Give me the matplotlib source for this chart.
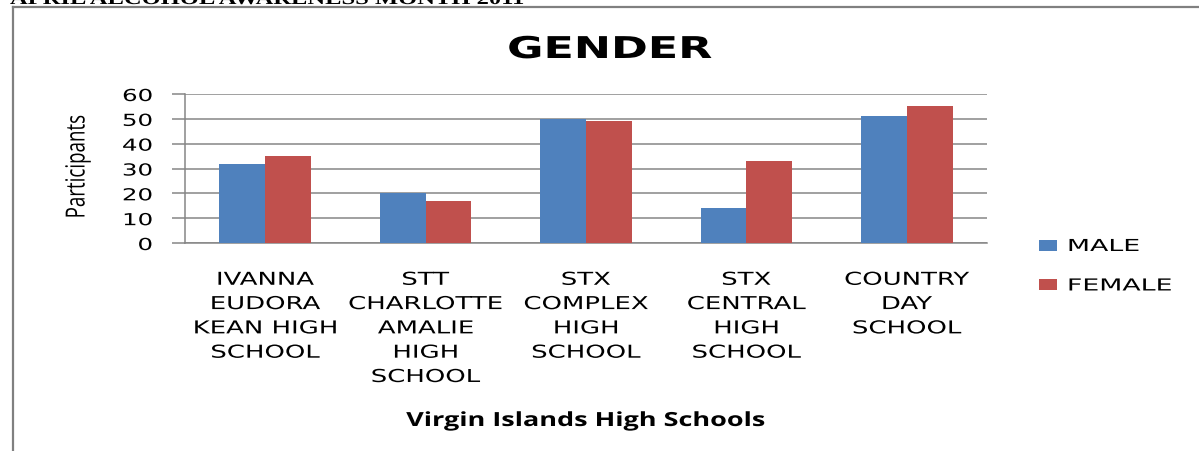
import matplotlib

matplotlib.use("Agg")
import matplotlib.pyplot as plt
import numpy as np
from matplotlib.lines import Line2D
from matplotlib.patheffects import AbstractPathEffect
from matplotlib.transforms import Affine2D

schools = [
    "IVANNA\nEUDORA\nKEAN HIGH\nSCHOOL",
    "STT\nCHARLOTTE\nAMALIE\nHIGH\nSCHOOL",
    "STX\nCOMPLEX\nHIGH\nSCHOOL",
    "STX\nCENTRAL\nHIGH\nSCHOOL",
    "COUNTRY\nDAY\nSCHOOL",
]
male = [32, 20, 50, 14, 51]
female = [35, 17, 49, 33, 55]
y_ticks = [0, 10, 20, 30, 40, 50, 60]

BLUE = "#4F81BD"
RED = "#C0504D"
GRID = "#868686"


class Stretch(AbstractPathEffect):
    """Scale glyphs along the text direction (the source chart was stretched)."""

    def __init__(self, sx, anchor="center"):
        super().__init__()
        self.sx = sx
        self.anchor = anchor

    def draw_path(self, renderer, gc, tpath, affine, rgbFace=None):
        ext = tpath.get_extents()
        if self.anchor == "left":
            cx = ext.x0
        elif self.anchor == "right":
            cx = ext.x1
        else:
            cx = (ext.x0 + ext.x1) / 2
        pre = Affine2D().translate(-cx, 0).scale(self.sx, 1).translate(cx, 0)
        renderer.draw_path(gc, tpath, pre + affine, rgbFace)


W, H = 1199, 452
fig = plt.figure(figsize=(W / 100, H / 100), dpi=100, facecolor="white")
ax = fig.add_axes([185 / W, 1 - 244 / H, (987 - 185) / W, (244 - 95) / H])

x = np.arange(len(schools))
width = 0.2857
ax.bar(x - width / 2, male, width, color=BLUE, label="MALE", zorder=3)
ax.bar(x + width / 2, female, width, color=RED, label="FEMALE", zorder=3)

ax.set_xlim(-0.5, len(schools) - 0.5)
ax.set_ylim(0, 60)
ax.set_yticks(y_ticks)
ax.yaxis.grid(True, color=GRID, linewidth=1.1, zorder=0)
ax.set_axisbelow(True)
for side in ("top", "right"):
    ax.spines[side].set_visible(False)
for side in ("left", "bottom"):
    ax.spines[side].set_color(GRID)
    ax.spines[side].set_linewidth(1.1)

ax.set_xticks(x)
ax.set_xticklabels(schools, fontsize=12.8, linespacing=1.45, family="DejaVu Sans")
ax.tick_params(axis="x", length=0, pad=20)
ax.tick_params(axis="y", length=9.4, width=1.1, color=GRID, pad=14, labelsize=11.9)
for lab in ax.get_xticklabels():
    lab.set_path_effects([Stretch(1.46)])
for lab in ax.get_yticklabels():
    lab.set_path_effects([Stretch(1.48, anchor="right")])

ylab = fig.text(78 / W, 1 - 168 / H, "Participants", rotation=90, ha="center", va="center",
                fontsize=19, family="Open Sans")
ylab.set_path_effects([Stretch(0.71)])

xlab = fig.text(586 / W, 1 - 427 / H, "Virgin Islands High Schools", ha="center", va="baseline",
                fontsize=14, fontweight="bold", family="Open Sans")
xlab.set_path_effects([Stretch(1.39)])

title = fig.text(610 / W, 1 - 59 / H, "GENDER", ha="center", va="baseline",
                 fontsize=21.6, fontweight="bold", family="DejaVu Sans")
title.set_path_effects([Stretch(1.48)])

leg = ax.legend(loc="upper left", bbox_to_anchor=(1039 / W, 1 - 238 / H), bbox_transform=fig.transFigure,
                frameon=False, fontsize=11.9, handlelength=1.1, handleheight=0.67, handletextpad=0.65,
                labelspacing=1.3, borderaxespad=0, borderpad=0)
for t in leg.get_texts():
    t.set_path_effects([Stretch(1.62, anchor="left")])

# page header cut off by the crop, and the frame around the chart
header = fig.text(10 / W, 1 - 5 / H, "APRIL ALCOHOL AWARENESS MONTH 2011", ha="left", va="baseline",
                  fontsize=13, fontweight="bold", family="Liberation Serif")
header.set_path_effects([Stretch(1.36, anchor="left")])
fig.add_artist(Line2D([13 / W, 1], [1 - 7.5 / H, 1 - 7.5 / H], color="#808080", linewidth=1.6,
                      transform=fig.transFigure))
fig.add_artist(Line2D([13 / W, 13 / W], [0, 1 - 7.5 / H], color="#808080", linewidth=1.6,
                      transform=fig.transFigure))

fig.savefig("out.png", dpi=100)
